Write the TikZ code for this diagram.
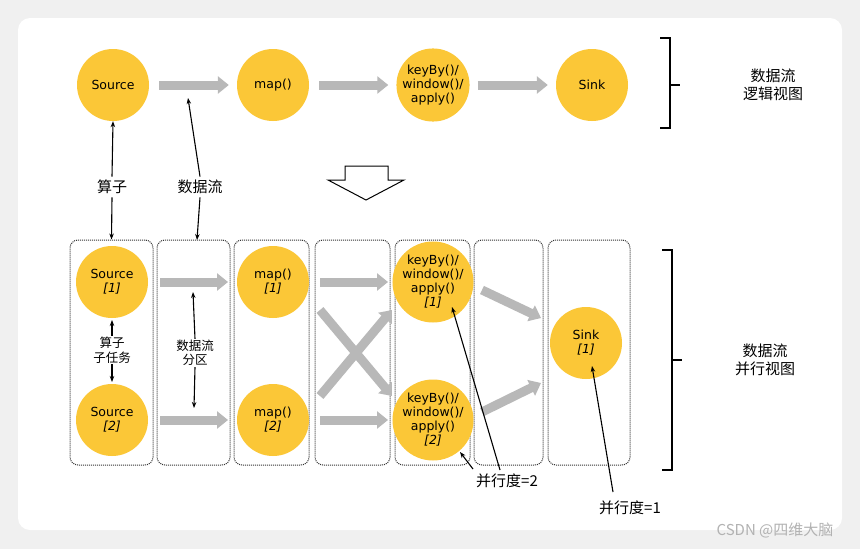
\documentclass[tikz,border=0pt]{standalone}
\usepackage{fontspec}
\setmainfont{DejaVu Sans}
\newfontfamily\cjk{Noto Sans CJK SC}
\usetikzlibrary{arrows.meta}
\definecolor{yel}{HTML}{FBC737}
\definecolor{garr}{HTML}{B8B8B8}
\tikzset{
 x=1pt,y=-1pt,
 op/.style={circle,fill=yel,minimum size=72pt,inner sep=0pt,align=center,font=\fontsize{12.5}{14}\selectfont},
 flow/.style={garr,line width=9pt,-{Triangle[length=11pt,width=17pt]}},
 col/.style={draw=black!80,densely dotted,line width=1pt,rounded corners=8pt},
 lab/.style={font=\cjk\fontsize{15}{18}\selectfont,align=center},
 slab/.style={font=\cjk\fontsize{12.5}{14.5}\selectfont,align=center,inner sep=1pt},
 pt/.style={-{Stealth[length=6pt]},line width=1.1pt},
 brk/.style={line width=1.2pt}
}
\begin{document}
\begin{tikzpicture}
\useasboundingbox (0,0) rectangle (860,549);
\fill[black!6] (0,0) rectangle (860,549);
\fill[white,rounded corners=12pt] (18,18) rectangle (842,530);
% top row
\node[op] (s) at (113,85) {Source};
\node[op] (m) at (273,85) {map()};
\node[op] (k) at (433,85) {keyBy()/\\window()/\\apply()};
\node[op] (sk) at (592,85) {Sink};
\draw[flow] ([xshift=10pt]s.east) -- ([xshift=-8pt]m.west);
\draw[flow] ([xshift=10pt]m.east) -- ([xshift=-8pt]k.west);
\draw[flow] ([xshift=8pt]k.east) -- ([xshift=-8pt]sk.west);
\draw[brk] (660,38) -- (670,38) -- (670,128) -- (660,128) (670,85) -- (680,85);
\node[lab] (t1) at (773,85) {数据流\\逻辑视图};
\draw[line width=1pt,fill=white] (345,166) -- (388,166) -- (388,180) -- (404,180) -- (366,200) -- (328,180) -- (345,180) -- cycle;
% columns
\node[col,minimum width=83pt,minimum height=225pt] (c1) at (111.5,352.5) {};
\node[col,minimum width=73pt,minimum height=225pt] (c2) at (193.5,352.5) {};
\node[col,minimum width=75pt,minimum height=225pt] (c3) at (271.5,352.5) {};
\node[col,minimum width=75pt,minimum height=225pt] (c4) at (352.5,352.5) {};
\node[col,minimum width=75pt,minimum height=225pt] (c5) at (432.5,352.5) {};
\node[col,minimum width=69pt,minimum height=225pt] (c6) at (508.5,352.5) {};
\node[col,minimum width=82pt,minimum height=225pt] (c7) at (589,352.5) {};
\node[lab] (op) at (112,187) {算子};
\node[lab] (df) at (200,187) {数据流};
\draw[pt] (op.north) -- (s.south);
\draw[pt] (op.south) -- (c1.north);
\draw[pt] (df.north) -- (188,98);
\draw[pt] (df.south) -- (197,240);
% bottom
\node[op] (s1) at (112,282) {Source\\\textit{[1]}};
\node[op] (s2) at (112,420) {Source\\\textit{[2]}};
\node[op] (m1) at (273,282) {map()\\\textit{[1]}};
\node[op] (m2) at (273,420) {map()\\\textit{[2]}};
\node[op] (k1) at (433,282) {keyBy()/\\window()/\\apply()\\\textit{[1]}};
\node[op] (k2) at (433,420) {keyBy()/\\window()/\\apply()\\\textit{[2]}};
\node[op] (sk1) at (586,343) {Sink\\\textit{[1]}};
\coordinate (x1) at (320,310); \coordinate (x2) at (392,396);
\coordinate (x3) at (320,396); \coordinate (x4) at (392,310);
\draw[flow] (160,282) -- (228,282);
\draw[flow] (320,282) -- (388,282);
\draw[flow] (160,420) -- (228,420);
\draw[flow] (320,420) -- (388,420);
\draw[flow] (x1) -- (x2);
\draw[flow] (x3) -- (x4);
\draw[flow] (482,290) -- (541,318);
\draw[flow] (482,412) -- (541,383);
\node[slab] (st) at (112,350) {算子\\子任务};
\draw[pt] (st.north) -- (112,320);
\draw[pt] (st.south) -- (112,382);
\node[slab] (dp) at (195,353) {数据流\\分区};
\draw[pt] (dp.north) -- (193,292);
\draw[pt] (dp.south) -- (194,408);
\node[lab] (p2) at (507,481) {并行度=2};
\draw[pt] (500,470) -- (452,307);
\draw[pt] (473,469) -- (460,452);
\node[lab] (p1) at (630,508) {并行度=1};
\draw[pt] (613,492) -- (592,366);
\draw[brk] (662,250) -- (672,250) -- (672,470) -- (662,470) (672,360) -- (682,360);
\node[lab] (t2) at (765,360) {数据流\\并行视图};
\node[font=\cjk\fontsize{15}{17}\selectfont,text=black!30] (wm) at (775,530) {CSDN @四维大脑};
\end{tikzpicture}
\end{document}
